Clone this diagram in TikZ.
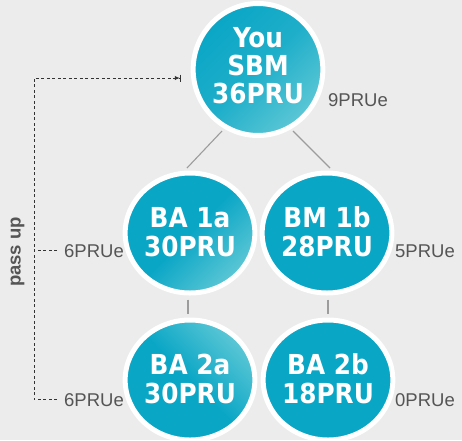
\documentclass[tikz,border=0pt]{standalone}
\usepackage{fontspec}
\setmainfont{Liberation Sans}
\newfontfamily\circfont{DejaVu Sans Condensed}
\usetikzlibrary{arrows.meta,shapes.geometric}
\definecolor{bg}{HTML}{ECECEC}
\definecolor{tealdark}{HTML}{0AA6C6}
\definecolor{teallight}{HTML}{5CC7D5}
\definecolor{labgray}{HTML}{555555}
\definecolor{dashgray}{HTML}{333333}
\definecolor{linegray}{HTML}{9C9C9C}
\tikzset{
  bubble/.style={ellipse, draw=white, line width=5pt, inner sep=0pt,
    text=white, align=center, font=\circfont\bfseries\fontsize{27.5}{29}\selectfont},
  bigbubble/.style={bubble, minimum width=129pt, minimum height=132pt,
    font=\circfont\bfseries\fontsize{27.5}{28}\selectfont},
  smallbubble/.style={bubble, minimum width=116pt, minimum height=120pt},
  flatfill/.style={fill=tealdark},
  lab/.style={inner sep=0pt, text=labgray, font=\fontsize{18.5}{20}\selectfont, anchor=base west},
  dashline/.style={draw=dashgray, line width=1pt, dash pattern=on 3pt off 2.5pt},
  thinlink/.style={draw=linegray, line width=1.1pt},
  vlink/.style={draw=linegray, line width=2.6pt},
}
\begin{document}
\begin{tikzpicture}[x=1pt,y=-1pt]
\useasboundingbox (0,0) rectangle (462,440);
\fill[bg] (0,0) rectangle (462,440);

% circles
\node[bigbubble, top color=tealdark, bottom color=teallight, middle color=tealdark!75!teallight, shading angle=45, text depth=8pt] (top) at (258,69.5) {You\\SBM\\36PRU};
\node[smallbubble, top color=tealdark, bottom color=teallight, middle color=tealdark, shading angle=45, text depth=3pt] (ba1a) at (190,233) {BA 1a\\30PRU};
\node[smallbubble, flatfill, text depth=3pt] (bm1b) at (327,233) {BM 1b\\28PRU};
\node[smallbubble, top color=teallight, bottom color=tealdark, middle color=tealdark, shading angle=-45, text depth=3pt] (ba2a) at (190,380) {BA 2a\\30PRU};
\node[smallbubble, flatfill, text depth=3pt] (ba2b) at (328,380) {BA 2b\\18PRU};

% connectors
\draw[thinlink] ([shift={(-36,61.5)}]top.center) -- ([shift={(-3,-65)}]ba1a.center);
\draw[thinlink] ([shift={(35,61.5)}]top.center) -- ([shift={(3,-65)}]bm1b.center);
\draw[vlink] ([shift={(-2,4)}]ba1a.south) -- ([shift={(-2,-4)}]ba2a.north);
\draw[vlink] ([shift={(1,4)}]bm1b.south) -- ([shift={(0,-4)}]ba2b.north);

% labels
\node[lab] (l9) at (328,106.7) {9PRUe};
\node[lab] (l6a) at (64,257.3) {6PRUe};
\node[lab] (l5) at (395,257) {5PRUe};
\node[lab] (l6b) at (64,406) {6PRUe};
\node[lab] (l0) at (395,406.7) {0PRUe};

\node[rotate=90, inner sep=0pt, text=labgray, font=\bfseries\fontsize{18.5}{20}\selectfont] (pass) at (17.5,252) {pass up};

% pass-up dashed path
\coordinate (arrowend) at (181,78);
\draw[dashline, -{Latex[length=5pt,width=4.5pt]Bar[width=7pt,line width=1.2pt]}]
  ([xshift=-7pt]l6b.west) -- ++(-23,0) |- (arrowend);
\draw[dashline] ([xshift=-7pt]l6a.west) -- ++(-23,0);
\end{tikzpicture}
\end{document}
